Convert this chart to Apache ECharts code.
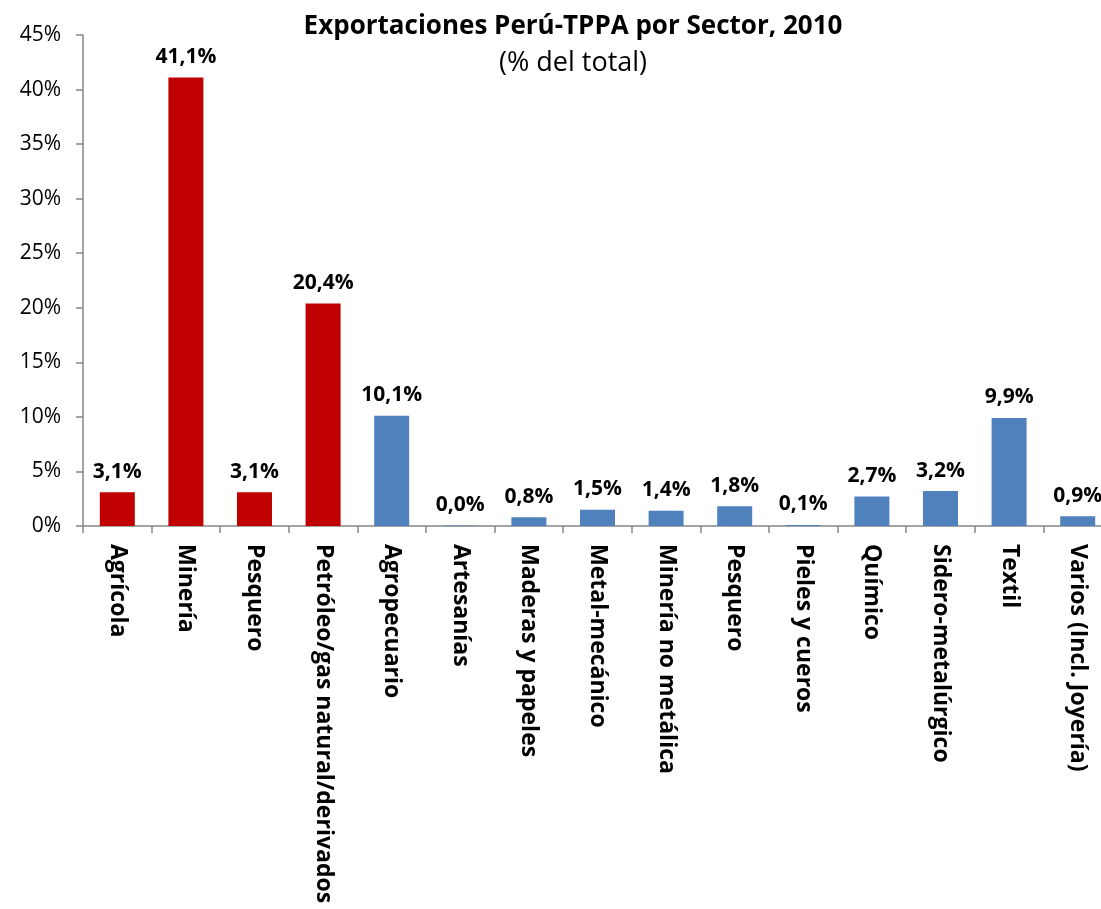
<!DOCTYPE html>
<html>
<head>
<meta charset="utf-8">
<script src="https://cdn.jsdelivr.net/npm/echarts@6/dist/echarts.min.js"></script>
<style>html,body{margin:0;padding:0;background:#fff;overflow:hidden;}#c{width:1112px;height:909px;}</style>
</head>
<body>
<div id="c"></div>
<script>
const categories = ["Agrícola","Minería","Pesquero","Petróleo/gas natural/derivados","Agropecuario","Artesanías","Maderas y papeles","Metal-mecánico","Minería no metálica","Pesquero","Pieles y cueros","Químico","Sidero-metalúrgico","Textil","Varios (Incl. Joyería)"];
const values = [3.1, 41.1, 3.1, 20.4, 10.1, 0.04, 0.8, 1.5, 1.4, 1.8, 0.1, 2.7, 3.2, 9.9, 0.9];
const traditionalCount = 4;
const yTicks = [0, 5, 10, 15, 20, 25, 30, 35, 40, 45];

const FONT = '"Open Sans", sans-serif';
const chart = echarts.init(document.getElementById('c'));
chart.setOption({
  animation: false,
  title: {
    text: 'Exportaciones Perú-TPPA por Sector, 2010',
    subtext: '(% del total)',
    left: 568, top: 9, textAlign: 'center',
    itemGap: 10,
    textStyle: {fontFamily: FONT, fontSize: 26, fontWeight: 'bold', color: '#000'},
    subtextStyle: {fontFamily: FONT, fontSize: 27, color: '#000'}
  },
  grid: {left: 83, top: 35, bottom: 383, right: 0, containLabel: false},
  xAxis: {
    type: 'category',
    data: categories,
    axisLine: {lineStyle: {color: '#868686', width: 1.5}},
    axisTick: {show: true, alignWithLabel: false, length: 7, lineStyle: {color: '#868686', width: 1.5}},
    axisLabel: {rotate: -90, interval: 0, margin: 18, fontFamily: FONT, fontSize: 23, fontWeight: 'bold', color: '#000'}
  },
  yAxis: {
    type: 'value', min: yTicks[0], max: yTicks[yTicks.length-1], interval: 5,
    axisLine: {show: true, lineStyle: {color: '#868686', width: 1.5}},
    axisTick: {show: true, length: 7, lineStyle: {color: '#868686', width: 1.5}},
    splitLine: {show: false},
    axisLabel: {margin: 22, fontFamily: FONT, fontSize: 21, color: '#000', formatter: v => v + '%'}
  },
  series: [{
    type: 'bar',
    data: values,
    barWidth: 35,
    itemStyle: {color: p => p.dataIndex < traditionalCount ? '#C00000' : '#4F81BD'},
    label: {
      show: true, position: 'top', distance: 10,
      fontFamily: FONT, fontSize: 21, fontWeight: 'bold', color: '#000',
      formatter: p => p.value.toFixed(1).replace('.', ',') + '%'
    }
  }]
});
</script>
</body>
</html>
